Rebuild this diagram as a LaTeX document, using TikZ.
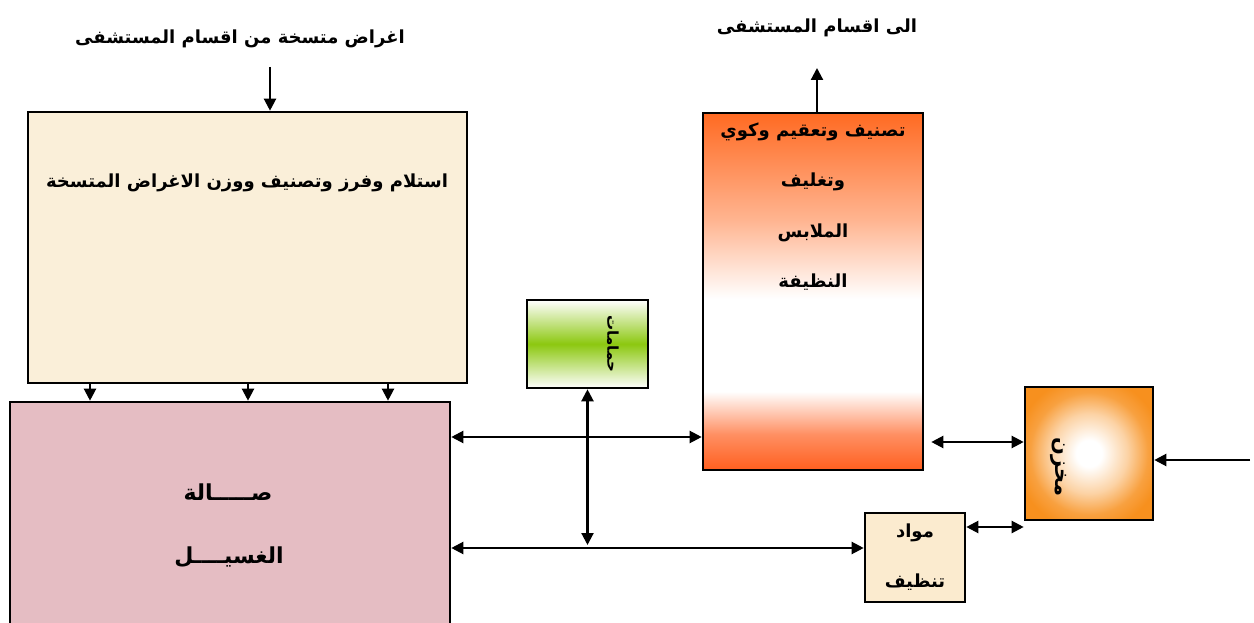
\documentclass[tikz,border=0pt]{standalone}
\usepackage{fontspec}
\newfontfamily\arabicfont[Script=Arabic]{DejaVu Sans}
\TeXXeTstate=1
\usetikzlibrary{arrows.meta}

\definecolor{creambg}{HTML}{FAEFD9}
\definecolor{pinkbg}{HTML}{E5BDC3}
\definecolor{smallcream}{HTML}{FBEBCF}
\definecolor{ironred}{HTML}{FF5F1F}
\definecolor{irontop}{HTML}{FF6A22}
\definecolor{bathgreen}{HTML}{8CC810}
\definecolor{storeorange}{HTML}{F7901E}

% vertical shadings (stops between 25bp and 75bp span the filled box)
\pgfdeclareverticalshading{ironfade}{100bp}{color(0bp)=(ironred); color(25bp)=(ironred); color(30bp)=(ironred!70!white); color(36bp)=(white); color(49bp)=(white); color(60bp)=(irontop!50!white); color(75bp)=(irontop); color(100bp)=(irontop)}
\pgfdeclareverticalshading{bathfade}{100bp}{color(0bp)=(white); color(25bp)=(white); color(50bp)=(bathgreen); color(75bp)=(white); color(100bp)=(white)}
% soft glow for the store box
\pgfdeclareradialshading{storeglow}{\pgfpoint{0bp}{0bp}}{color(0bp)=(white); color(5bp)=(white); color(15bp)=(storeorange!40!white); color(23bp)=(storeorange!85!white); color(29bp)=(storeorange); color(50bp)=(storeorange)}

\tikzset{
  box/.style={draw=black, line width=2.6pt, inner sep=0pt},
  lbl/.style={font=\arabicfont\bfseries\fontsize{18}{20}\selectfont, inner sep=1pt},
  biglbl/.style={font=\arabicfont\bfseries\fontsize{22}{24}\selectfont, inner sep=1pt},
  arr/.style={line width=2.2pt, -{Triangle[length=12pt,width=12pt]}},
  darr/.style={line width=2.2pt, {Triangle[length=12pt,width=12pt]}-{Triangle[length=12pt,width=12pt]}},
}

\begin{document}
\begin{tikzpicture}[x=1pt, y=-1pt]
\useasboundingbox (0,0) rectangle (1254,623);

% boxes
\node[box, fill=creambg, minimum width=439pt, minimum height=271pt] (sortbox) at (247.5,247.5) {};
\node[box, fill=pinkbg, minimum width=440pt, minimum height=226pt] (washbox) at (230,515) {};
\node[box, shading=ironfade, minimum width=220pt, minimum height=357pt] (ironbox) at (813,291.5) {};
\node[box, shading=bathfade, minimum width=121pt, minimum height=88pt] (bathbox) at (587.5,344) {};
\node[box, shading=storeglow, minimum width=128pt, minimum height=133pt] (storebox) at (1089,453.5) {};
\node[box, fill=smallcream, minimum width=100pt, minimum height=89pt] (cleanbox) at (915,557.5) {};

% texts
\node[lbl] (intxt) at (240,39) {\beginR اغراض متسخة من اقسام المستشفى\endR};
\node[lbl] (outtxt) at (817,28) {\beginR الى اقسام المستشفى\endR};
\node[lbl] (sorttxt) at (247,183) {\beginR استلام وفرز وتصنيف ووزن الاغراض المتسخة\endR};
\node[biglbl] (washA) at (228,492) {\beginR صـــــالة\endR};
\node[biglbl] (washB) at (229,557) {\beginR الغسيــــل\endR};
\node[lbl] (ironA) at (813,132) {\beginR تصنيف وتعقيم وكوي\endR};
\node[lbl] (ironB) at (813,182) {\beginR وتغليف\endR};
\node[lbl] (ironC) at (813,233) {\beginR الملابس\endR};
\node[lbl] (ironD) at (813,282) {\beginR النظيفة\endR};
\node[lbl, font=\arabicfont\bfseries\fontsize{15}{17}\selectfont, rotate=-90] (bathtxt) at (613,344) {\beginR حمامات\endR};
\node[lbl, font=\arabicfont\bfseries\fontsize{21}{23}\selectfont, rotate=-90] (storetxt) at (1058,467) {\beginR مخزن\endR};
\node[lbl] (cleanA) at (915,533) {\beginR مواد\endR};
\node[lbl] (cleanB) at (915,582) {\beginR تنظيف\endR};

% connector anchors
\coordinate (inA) at (270,67);
\coordinate (outB) at (817,68);
\coordinate (dropA) at (90,0);
\coordinate (dropB) at (248,0);
\coordinate (dropC) at (388,0);
\coordinate (rowA) at (0,437);
\coordinate (rowB) at (0,548);
\coordinate (bathfoot) at (587.5,545);
\coordinate (rowC) at (0,442);
\coordinate (rowD) at (0,527);
\coordinate (supply) at (1250,460);

% connectors
\draw[arr] (inA) -- (sortbox.north -| inA);
\draw[arr] (ironbox.north -| outB) -- (outB);
\draw[arr] (sortbox.south -| dropA) -- (washbox.north -| dropA);
\draw[arr] (sortbox.south -| dropB) -- (washbox.north -| dropB);
\draw[arr] (sortbox.south -| dropC) -- (washbox.north -| dropC);
\draw[darr] (washbox.east |- rowA) -- (ironbox.west |- rowA);
\draw[darr] (washbox.east |- rowB) -- (cleanbox.west |- rowB);
\draw[darr] (bathbox.south) -- (bathfoot);
\draw[darr, shorten <=7pt] (ironbox.east |- rowC) -- (storebox.west |- rowC);
\draw[darr] (cleanbox.east |- rowD) -- (storebox.west |- rowD);
\draw[arr] (supply) -- (storebox.east |- supply);
\end{tikzpicture}
\end{document}
